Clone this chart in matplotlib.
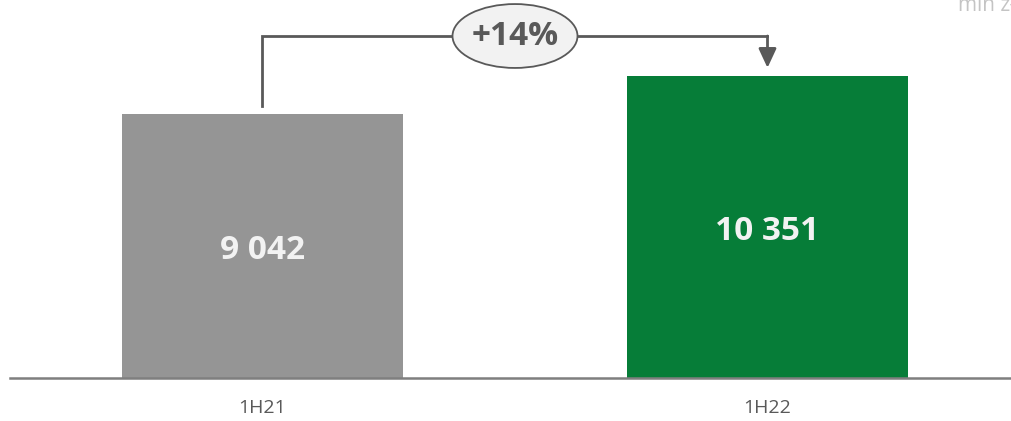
import matplotlib
matplotlib.use('Agg')
import matplotlib.pyplot as plt
from matplotlib.patches import Ellipse

plt.rcParams['font.family'] = ['Open Sans', 'DejaVu Sans']

# half-year values, mln zl
periods = ['1H21', '1H22']
values = [9042, 10351]
value_labels = ['9 042', '10 351']
growth_label = '+14%'
unit_label = 'mln zł'

bar_colors = ['#959595', '#067D38']
dark = '#595959'

fig = plt.figure(figsize=(10.12, 4.21), dpi=100)
ax = fig.add_axes([10/1012, 43/421, 1002/1012, 378/421])

x = list(range(len(values)))
ax.bar(x, values, width=0.556, color=bar_colors, zorder=2)

ax.set_xlim(-0.5, -0.5 + 1002/505)
ax.set_ylim(0, 12956)

for xi, v, lab in zip(x, values, value_labels):
    ax.text(xi, v*0.485, lab, ha='center', va='center', color='#F2F2F2',
            fontsize=24, fontweight='bold')

# growth bracket from first bar to second
gap = 280
top = 11722
ax.plot([x[0], x[0], x[1]], [values[0]+gap, top, top], color=dark, lw=2,
        solid_joinstyle='miter', clip_on=False, zorder=3)
ax.annotate('', xy=(x[1], values[1]+gap), xytext=(x[1], top),
            arrowprops=dict(arrowstyle='-|>,head_length=0.43,head_width=0.2',
                            mutation_scale=27, color=dark, lw=2,
                            shrinkA=0, shrinkB=0),
            annotation_clip=False)
mid = (x[0] + x[1]) / 2
ax.add_patch(Ellipse((mid, top), 125/505, 2190, facecolor='#F2F2F2',
                     edgecolor=dark, lw=1.3, zorder=4, clip_on=False))
ax.text(mid, top, growth_label, ha='center', va='center', color=dark,
        fontsize=24, fontweight='bold', zorder=5)

ax.set_xticks(x, periods)
ax.tick_params(axis='x', length=0, pad=15, labelsize=14, labelcolor=dark)
ax.set_yticks([])
for side in ['left', 'right', 'top']:
    ax.spines[side].set_visible(False)
ax.spines['bottom'].set_color('#7F7F7F')
ax.spines['bottom'].set_linewidth(1.8)
ax.patch.set_alpha(0)

fig.text(958/1012, 1 - 11/421, unit_label, ha='left', va='baseline',
         color='#C4C4C4', fontsize=15)

fig.savefig('out.png', dpi=100)
